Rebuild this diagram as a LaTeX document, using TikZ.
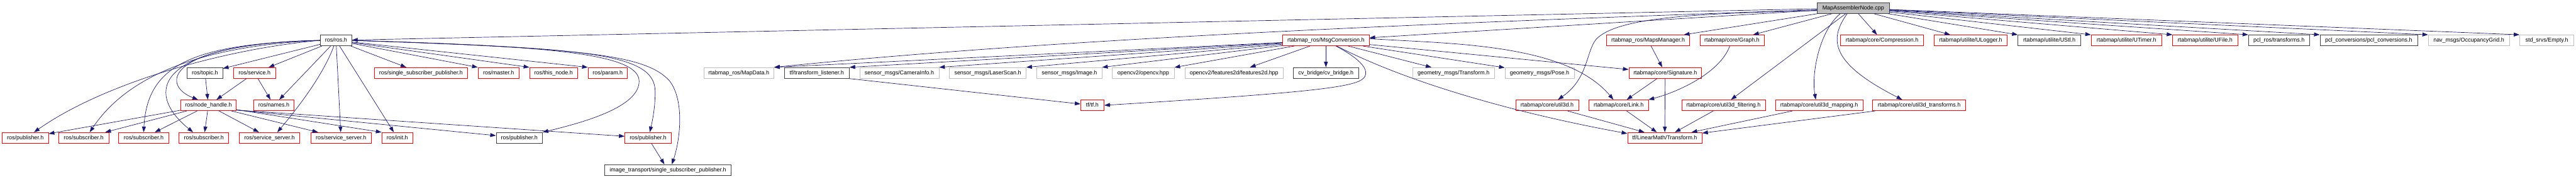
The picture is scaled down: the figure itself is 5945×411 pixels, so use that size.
\documentclass[tikz,border=0pt]{standalone}
\usepackage{fontspec}
\setmainfont{Liberation Sans}
\usetikzlibrary{arrows.meta}
\definecolor{edgeblue}{HTML}{191970}
\definecolor{boxgrey}{HTML}{BFBFBF}
\definecolor{boxdark}{HTML}{404040}

\begin{document}
\begin{tikzpicture}[x=1pt, y=1pt,
    box/.style={draw, fill=white, line width=1pt, inner sep=0pt, minimum height=25pt,
      text height=9.5pt, text depth=2.7pt, font=\fontsize{13}{15}\selectfont},
    redbox/.style={box, draw=red},
    darkbox/.style={box, draw=boxdark},
    extbox/.style={box, draw=boxgrey},
    rootbox/.style={box, draw=boxdark, fill=boxgrey},
    edge/.style={edgeblue, line width=1pt, -{Triangle[length=13pt, width=9pt]}}]

    \useasboundingbox (0,0) rectangle (5945,411);

    % row 0
    \node[rootbox, minimum width=166pt] (root) at (4277,392.5) {MapAssemblerNode.cpp};
    % row 1
    \node[darkbox, minimum width=73pt] (rosh) at (775.5,318) {ros/ros.h};
    \node[redbox, minimum width=200pt] (msgconv) at (3060,318) {rtabmap\_ros/MsgConversion.h};
    \node[redbox, minimum width=191pt] (mapsmgr) at (3803.5,318) {rtabmap\_ros/MapsManager.h};
    \node[redbox, minimum width=148pt] (graph) at (3997,318) {rtabmap/core/Graph.h};
    \node[redbox, minimum width=191pt] (compr) at (4343.5,318) {rtabmap/core/Compression.h};
    \node[redbox, minimum width=168pt] (ulogger) at (4548,318) {rtabmap/utilite/ULogger.h};
    \node[darkbox, minimum width=145pt] (ustl) at (4729.5,318) {rtabmap/utilite/UStl.h};
    \node[redbox, minimum width=163pt] (utimer) at (4907.5,318) {rtabmap/utilite/UTimer.h};
    \node[redbox, minimum width=150pt] (ufile) at (5089,318) {rtabmap/utilite/UFile.h};
    \node[darkbox, minimum width=141pt] (pclros) at (5259.5,318) {pcl\_ros/transforms.h};
    \node[darkbox, minimum width=225pt] (pclconv) at (5466.5,318) {pcl\_conversions/pcl\_conversions.h};
    \node[extbox, minimum width=187pt] (occgrid) at (5697.5,318) {nav\_msgs/OccupancyGrid.h};
    \node[extbox, minimum width=125pt] (empty) at (5877.5,318) {std\_srvs/Empty.h};
    % row 2
    \node[darkbox, minimum width=82pt] (topic) at (473,243) {ros/topic.h};
    \node[redbox, minimum width=97pt] (service) at (587.5,243) {ros/service.h};
    \node[redbox, minimum width=215pt] (singlesub) at (971.5,243) {ros/single\_subscriber\_publisher.h};
    \node[redbox, minimum width=95pt] (master) at (1150.5,243) {ros/master.h};
    \node[redbox, minimum width=111pt] (thisnode) at (1277.5,243) {ros/this\_node.h};
    \node[redbox, minimum width=91pt] (param) at (1402.5,243) {ros/param.h};
    \node[extbox, minimum width=162pt] (mapdata) at (1705,243) {rtabmap\_ros/MapData.h};
    \node[darkbox, minimum width=150pt] (tflistener) at (1885,243) {tf/transform\_listener.h};
    \node[extbox, minimum width=183pt] (caminfo) at (2075.5,243) {sensor\_msgs/CameraInfo.h};
    \node[extbox, minimum width=177pt] (laserscan) at (2279.5,243) {sensor\_msgs/LaserScan.h};
    \node[extbox, minimum width=150pt] (image) at (2468,243) {sensor\_msgs/Image.h};
    \node[extbox, minimum width=143pt] (opencv) at (2638.5,243) {opencv2/opencv.hpp};
    \node[extbox, minimum width=226pt] (features) at (2848,243) {opencv2/features2d/features2d.hpp};
    \node[darkbox, minimum width=150pt] (cvbridge) at (3060,243) {cv\_bridge/cv\_bridge.h};
    \node[extbox, minimum width=189pt] (geotf) at (3354.5,243) {geometry\_msgs/Transform.h};
    \node[extbox, minimum width=160pt] (geopose) at (3553,243) {geometry\_msgs/Pose.h};
    \node[redbox, minimum width=168pt] (signature) at (3843,243) {rtabmap/core/Signature.h};
    % row 3
    \node[redbox, minimum width=128pt] (nodehandle) at (481,168.5) {ros/node\_handle.h};
    \node[redbox, minimum width=94pt] (names) at (632,168.5) {ros/names.h};
    \node[redbox, minimum width=54pt] (tftf) at (2521,168.5) {tf/tf.h};
    \node[redbox, minimum width=145pt] (utild) at (3570.5,168.5) {rtabmap/core/util3d.h};
    \node[redbox, minimum width=137pt] (link) at (3735.5,168.5) {rtabmap/core/Link.h};
    \node[redbox, minimum width=193pt] (filtering) at (3977.5,168.5) {rtabmap/core/util3d\_filtering.h};
    \node[redbox, minimum width=201pt] (mapping) at (4198.5,168.5) {rtabmap/core/util3d\_mapping.h};
    \node[redbox, minimum width=214pt] (transforms) at (4429,168.5) {rtabmap/core/util3d\_transforms.h};
    % row 4
    \node[redbox, minimum width=107pt] (pubA) at (58.5,93.5) {ros/publisher.h};
    \node[redbox, minimum width=116pt] (subA) at (193,93.5) {ros/subscriber.h};
    \node[redbox, minimum width=115pt] (subB) at (331.5,93.5) {ros/subscriber.h};
    \node[redbox, minimum width=115pt] (subC) at (470.5,93.5) {ros/subscriber.h};
    \node[redbox, minimum width=140pt] (srvA) at (622,93.5) {ros/service\_server.h};
    \node[redbox, minimum width=140pt] (srvB) at (787,93.5) {ros/service\_server.h};
    \node[redbox, minimum width=72pt] (init) at (917,93.5) {ros/init.h};
    \node[darkbox, minimum width=107pt] (pubB) at (1198.5,93.5) {ros/publisher.h};
    \node[redbox, minimum width=107pt] (pubC) at (1495.5,93.5) {ros/publisher.h};
    \node[redbox, minimum width=172pt] (lmtf) at (3842,93.5) {tf/LinearMath/Transform.h};
    % row 5
    \node[darkbox, minimum width=291pt] (itssp) at (1541.5,19.5) {image\_transport/single\_subscriber\_publisher.h};

    % MapAssemblerNode.cpp
    \draw[edge] (root) -- (rosh);
    \draw[edge] (root) -- (msgconv);
    \draw[edge] ([yshift=-4pt]root.west) .. controls (3470,363) and (2506,329) .. (mapdata.north east);
    \draw[edge] (root) -- (mapsmgr);
    \draw[edge] (root) -- (graph);
    \draw[edge] (root) -- (compr);
    \draw[edge] (root) -- (ulogger);
    \foreach \dest in {ustl,utimer,ufile,pclros,pclconv,occgrid,empty}
      \draw[edge] (root) -- (\dest.north west);
    \draw[edge] ([yshift=-6pt]root.west) .. controls (3900,380) and (3730,370) .. (3683,320)
      .. controls (3660,290) and (3665,230) .. ([xshift=25pt]utild.north);
    \draw[edge] (root) -- (filtering);
    \draw[edge] ([xshift=-30pt]root.south) .. controls (4199,340) and (4180,242) .. ([xshift=-8pt]mapping.north);
    \draw[edge] ([xshift=-14pt]root.south) .. controls (4220,320) and (4225,265) .. ([xshift=-39pt]transforms.north);

    % MsgConversion.h
    \draw[edge] (msgconv) -- (mapdata.north east);
    \draw[edge] (msgconv) -- (tflistener.north east);
    \draw[edge] (msgconv) -- (caminfo.north east);
    \draw[edge] (msgconv) -- (laserscan.north east);
    \draw[edge] (msgconv) -- (image.north east);
    \draw[edge] (msgconv) -- (opencv);
    \draw[edge] (msgconv) -- (features);
    \draw[edge] (msgconv) -- (cvbridge);
    \draw[edge] ([xshift=23pt]msgconv.south) .. controls (3130,280) and (3160,255) .. (3150,235)
      .. controls (3138,212) and (3060,200) .. (tftf.east);
    \draw[edge] ([xshift=25pt]msgconv.south) .. controls (3250,220) and (3500,150) .. ([yshift=10pt]lmtf.west);
    \draw[edge] (msgconv) -- (geotf);
    \draw[edge] (msgconv) -- (geopose);
    \draw[edge] ([yshift=4pt]msgconv.east) .. controls (3334,310) and (3612,314) .. ([xshift=-12pt]link.north);
    \draw[edge] (msgconv) -- (signature);

    % ros.h
    \draw[edge] (rosh.west) .. controls (532,300) and (248,225) .. ([xshift=20pt]pubA.north);
    \draw[edge] (rosh.west) .. controls (450,305) and (290,230) .. ([xshift=14pt]subA.north);
    \draw[edge] (rosh.west) .. controls (440,310) and (340,260) .. (subB.north);
    \draw[edge] (rosh.west) .. controls (360,310) and (330,200) .. ([xshift=-25pt]subC.north);
    \draw[edge] (rosh.west) .. controls (380,310) and (370,215) .. ([xshift=-24pt]nodehandle.north);
    \draw[edge] (rosh) -- (topic);
    \draw[edge] (rosh) -- (service);
    \draw[edge] (rosh) -- (names);
    \draw[edge] ([xshift=-5pt]rosh.south) .. controls (746,238) and (686,161) .. ([xshift=18pt]srvA.north);
    \draw[edge] (rosh) -- (srvB);
    \draw[edge] (rosh) -- (init);
    \draw[edge] (rosh) -- (singlesub);
    \draw[edge] (rosh) -- (master.north west);
    \draw[edge] (rosh) -- (thisnode.north west);
    \draw[edge] (rosh) -- (param.north west);
    \draw[edge] (rosh.east) .. controls (1250,305) and (1475,290) .. (1475,224)
      .. controls (1475,165) and (1350,130) .. (pubB.north east);
    \draw[edge] (rosh.east) .. controls (1350,300) and (1512,290) .. (1512,200)
      .. controls (1512,160) and (1505,130) .. ([xshift=4pt]pubC.north);
    \draw[edge] (rosh.east) .. controls (1350,300) and (1490,285) .. (1545,225)
      .. controls (1580,180) and (1570,90) .. ([xshift=9pt]itssp.north);

    % node_handle.h and the rest
    \foreach \dest in {pubA,subA,subB,subC,srvA,srvB}
      \draw[edge] (nodehandle) -- (\dest);
    \draw[edge] (nodehandle) -- (init.north west);
    \draw[edge] ([yshift=-11pt]nodehandle.east) -- (pubB);
    \draw[edge] ([yshift=-11pt]nodehandle.east) -- (pubC);
    \draw[edge] (topic) -- (nodehandle);
    \draw[edge] (service) -- (nodehandle);
    \draw[edge] (service) -- (names);
    \draw[edge] (pubC) -- (itssp);
    \draw[edge] (tflistener.south east) -- (tftf);
    \draw[edge] (mapsmgr) -- (signature);
    \draw[edge] ([xshift=-5pt]graph.south) .. controls (3969,242) and (3869,198) .. (link.north east);
    \draw[edge] (signature) -- (link);
    \draw[edge] (signature) -- (lmtf);
    \foreach \src in {utild,link,filtering,mapping,transforms}
      \draw[edge] (\src) -- (lmtf);
\end{tikzpicture}
\end{document}
